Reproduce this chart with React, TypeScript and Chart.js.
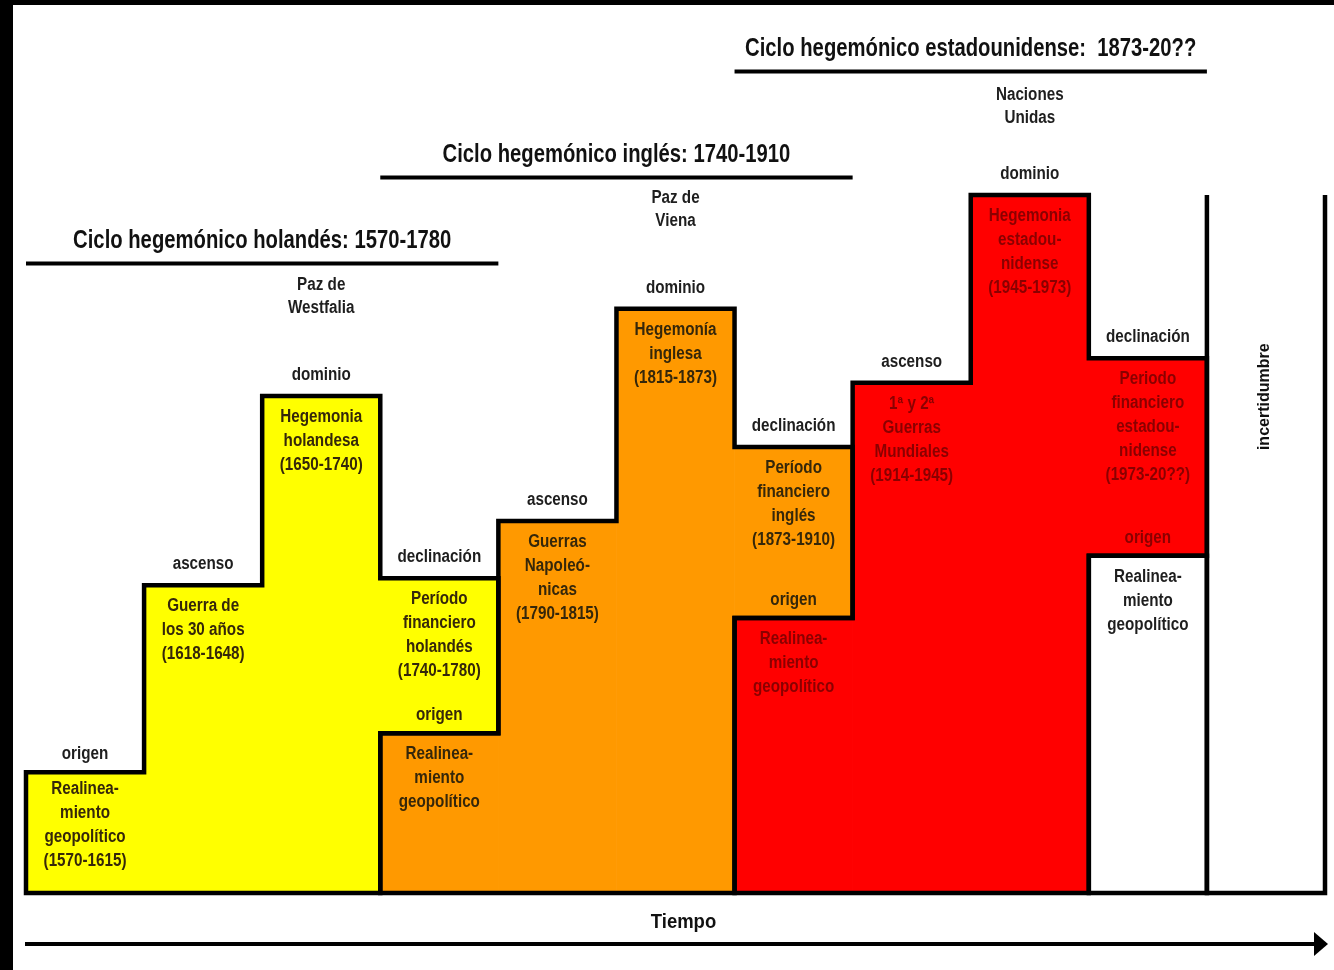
import React, { useEffect, useRef } from 'react';
import { Chart, registerables } from 'chart.js';

Chart.register(...registerables);

// ---- Data (levels on a 0..100 scale, column units on x) ----
const phaseLabels = ['origen', 'ascenso', 'dominio', 'declinación', 'ascenso', 'dominio', 'declinación', 'ascenso', 'dominio', 'declinación'];

const yellowStart = 0;
const yellowBars: [number, number][] = [[0, 17.3], [0, 44.1], [0, 71.2], [22.9, 45.1]];
const yellowTexts = [
  ['Realinea-', 'miento', 'geopolítico', '(1570-1615)'],
  ['Guerra de', 'los 30 años', '(1618-1648)'],
  ['Hegemonia', 'holandesa', '(1650-1740)'],
  ['Período', 'financiero', 'holandés', '(1740-1780)'],
];

const orangeStart = 3;
const orangeBars: [number, number][] = [[0, 22.9], [0, 53.3], [0, 83.7], [39.4, 63.9]];
const orangeTexts = [
  ['Realinea-', 'miento', 'geopolítico'],
  ['Guerras', 'Napoleó-', 'nicas', '(1790-1815)'],
  ['Hegemonía', 'inglesa', '(1815-1873)'],
  ['Período', 'financiero', 'inglés', '(1873-1910)'],
];

const redStart = 6;
const redBars: [number, number][] = [[0, 39.4], [0, 73.1], [0, 100], [48.3, 76.6]];
const redTexts = [
  ['Realinea-', 'miento', 'geopolítico'],
  ['1ª y 2ª', 'Guerras', 'Mundiales', '(1914-1945)'],
  ['Hegemonia', 'estadou-', 'nidense', '(1945-1973)'],
  ['Periodo', 'financiero', 'estadou-', 'nidense', '(1973-20??)'],
];

const whiteStart = 9;
const whiteBars: [number, number][] = [[0, 48.3]];
const whiteTexts = [['Realinea-', 'miento', 'geopolítico']];

const uncertaintyCols = [10, 11];
const uncertaintyTop = 100;
const uncertaintyLabel = 'incertidumbre';
const uncertaintyLabelLevel = 71.1;

const cycleTitles = ['Ciclo hegemónico holandés: 1570-1780', 'Ciclo hegemónico inglés: 1740-1910', 'Ciclo hegemónico estadounidense:  1873-20??'];
const cycleFrom = [0, 3, 6];
const cycleTo = [4, 7, 10];
const cycleLevels = [90.2, 102.5, 117.7];

const peaceCols = [2, 5, 8];
const peaceTexts = [['Paz de', 'Westfalia'], ['Paz de', 'Viena'], ['Naciones', 'Unidas']];
const peaceLevels = [85.5, 97.9, 112.7];

const axisTitle = 'Tiempo';

// ---- Styles ----
const YELLOW = '#ffff00';
const ORANGE = '#ff9900';
const RED = '#ff0000';
const DARK = '#35270a';
const DARKRED = '#8a0000';
const INK = '#1e1e1e';
const LABEL_FONT = 'bold 17.5px "Liberation Sans", Arial, sans-serif';
const LABEL_SX = 0.87;
const TITLE_FONT = 'bold 25px "Liberation Sans", Arial, sans-serif';
const TITLE_SX = 0.81;

const groups = [
  { start: yellowStart, bars: yellowBars, color: YELLOW, texts: yellowTexts, ink: DARK },
  { start: orangeStart, bars: orangeBars, color: ORANGE, texts: orangeTexts, ink: DARK },
  { start: redStart, bars: redBars, color: RED, texts: redTexts, ink: DARKRED },
  { start: whiteStart, bars: whiteBars, color: '#ffffff', texts: whiteTexts, ink: INK },
];

function outline(start: number, bars: [number, number][]) {
  const pts: { x: number; y: number }[] = [];
  const push = (x: number, y: number) => {
    const p = pts[pts.length - 1];
    if (p && p.x === x && p.y === y) return;
    pts.push({ x, y });
  };
  bars.forEach(([, hi], i) => { push(start + i, hi); push(start + i + 1, hi); });
  for (let i = bars.length - 1; i >= 0; i--) {
    const lo = bars[i][0];
    push(start + i + 1, lo);
    push(start + i, lo);
  }
  push(pts[0].x, pts[0].y);
  return pts;
}

function drawText(ctx: CanvasRenderingContext2D, text: string, x: number, y: number, font: string, color: string, sx: number, rot = 0) {
  ctx.save();
  ctx.translate(x, y);
  if (rot) ctx.rotate(rot);
  ctx.scale(sx, 1);
  ctx.font = font;
  ctx.fillStyle = color;
  ctx.textAlign = 'center';
  ctx.textBaseline = 'middle';
  ctx.fillText(text, 0, 0);
  ctx.restore();
}

const decorPlugin = {
  id: 'decor',
  beforeDraw(chart: any) {
    const ctx = chart.ctx as CanvasRenderingContext2D;
    ctx.save();
    ctx.fillStyle = '#ffffff';
    ctx.fillRect(0, 0, chart.width, chart.height);
    ctx.fillStyle = '#000000';
    ctx.fillRect(0, 0, chart.width, 5);
    ctx.fillRect(0, 0, 13, chart.height);
    ctx.restore();
  },
  afterDatasetsDraw(chart: any) {
    const ctx = chart.ctx as CanvasRenderingContext2D;
    const xs = chart.scales.x;
    const ys = chart.scales.y;
    const cx = (c: number) => xs.getPixelForValue(c + 0.5);
    const LH = 24;
    const GAP = 21;

    // column tops
    const tops: number[] = [];
    groups.forEach((g) => g.bars.forEach(([, hi], i) => {
      const c = g.start + i;
      tops[c] = Math.max(tops[c] ?? 0, hi);
    }));

    // phase labels above each column
    phaseLabels.forEach((t, c) => {
      drawText(ctx, t, cx(c), ys.getPixelForValue(tops[c]) - GAP + (c === 0 ? 3 : 0), LABEL_FONT, INK, LABEL_SX);
    });

    // texts inside boxes + "origen" above each later cycle start
    groups.forEach((g, gi) => {
      g.texts.forEach((lines, i) => {
        const c = g.start + i;
        const top = ys.getPixelForValue(g.bars[i][1]);
        const gap = lines.length > 3 && g.bars[i][1] < 20 ? GAP - 4 : GAP;
        lines.forEach((ln, k) => drawText(ctx, ln, cx(c), top + gap + k * LH, LABEL_FONT, g.ink, LABEL_SX));
      });
      if (gi > 0) {
        const prev = groups[gi - 1];
        const c = g.start;
        const top = ys.getPixelForValue(g.bars[0][1]);
        drawText(ctx, 'origen', cx(c), top - 18, LABEL_FONT, prev.ink, LABEL_SX);
      }
    });

    // peace treaties
    peaceCols.forEach((c, i) => {
      const mid = ys.getPixelForValue(peaceLevels[i]);
      const lines = peaceTexts[i];
      lines.forEach((ln, k) => drawText(ctx, ln, cx(c), mid + (k - (lines.length - 1) / 2) * 23, LABEL_FONT, INK, LABEL_SX));
    });

    // cycle titles
    cycleTitles.forEach((t, i) => {
      const x = (xs.getPixelForValue(cycleFrom[i]) + xs.getPixelForValue(cycleTo[i])) / 2;
      const y = ys.getPixelForValue(cycleLevels[i]) - 22;
      drawText(ctx, t, x, y, TITLE_FONT, '#111111', TITLE_SX);
    });

    // uncertainty vertical label
    drawText(ctx, uncertaintyLabel, xs.getPixelForValue((uncertaintyCols[0] + uncertaintyCols[1]) / 2) - 2,
      ys.getPixelForValue(uncertaintyLabelLevel), 'bold 16.5px "Liberation Sans", Arial, sans-serif', '#111111', 0.97, -Math.PI / 2);

    // time arrow
    const area = chart.chartArea;
    const ay = area.bottom + 51;
    const x0 = xs.getPixelForValue(0) - 1;
    const x1 = xs.getPixelForValue(11) + 3;
    ctx.save();
    ctx.strokeStyle = '#000';
    ctx.lineWidth = 4;
    ctx.beginPath();
    ctx.moveTo(x0, ay);
    ctx.lineTo(x1 - 10, ay);
    ctx.stroke();
    ctx.fillStyle = '#000';
    ctx.beginPath();
    ctx.moveTo(x1, ay);
    ctx.lineTo(x1 - 14, ay - 12);
    ctx.lineTo(x1 - 14, ay + 12);
    ctx.closePath();
    ctx.fill();
    ctx.restore();
    drawText(ctx, axisTitle, (x0 + x1) / 2 + 7, area.bottom + 29, 'bold 21px "Liberation Sans", Arial, sans-serif', '#111111', 0.88);
  },
};

export default function App() {
  const ref = useRef<HTMLCanvasElement | null>(null);
  useEffect(() => {
    document.body.style.margin = '0';
    const canvas = ref.current;
    if (!canvas) return;

    const barSets = groups.map((g, gi) => ({
      type: 'bar' as const,
      label: 'g' + gi,
      data: g.bars.map((b, i) => ({ x: g.start + i + 0.5, y: b })),
      backgroundColor: g.color,
      borderWidth: 0,
      grouped: false,
      barPercentage: 1,
      categoryPercentage: 1,
      order: 2,
    }));

    const lineStyle = {
      type: 'line' as const,
      borderColor: '#000000',
      borderWidth: 4.5,
      pointRadius: 0,
      fill: false,
      tension: 0,
      clip: false,
      order: 0,
    };

    const outlines = groups.map((g, gi) => ({
      ...lineStyle,
      label: 'o' + gi,
      data: outline(g.start, g.bars),
      borderJoinStyle: 'miter' as const,
      borderCapStyle: 'square' as const,
    }));

    const box = {
      ...lineStyle,
      label: 'box',
      data: [
        { x: uncertaintyCols[0], y: uncertaintyTop },
        { x: uncertaintyCols[0], y: 0 },
        { x: uncertaintyCols[1], y: 0 },
        { x: uncertaintyCols[1], y: uncertaintyTop },
      ],
      borderJoinStyle: 'miter' as const,
      borderCapStyle: 'butt' as const,
    };

    const cycleLines = cycleTitles.map((_, i) => ({
      ...lineStyle,
      label: 'c' + i,
      borderWidth: 4,
      data: [{ x: cycleFrom[i], y: cycleLevels[i] }, { x: cycleTo[i], y: cycleLevels[i] }],
    }));

    const chart = new Chart(canvas, {
      type: 'bar',
      data: { datasets: [...barSets, ...outlines, box, ...cycleLines] as any },
      options: {
        responsive: false,
        animation: false,
        devicePixelRatio: 1,
        layout: { padding: { left: 26, right: 9, top: 195, bottom: 77 } },
        plugins: { legend: { display: false }, tooltip: { enabled: false } },
        scales: {
          x: { type: 'linear', min: 0, max: 11, offset: false, display: false, ticks: { stepSize: 1 }, grid: { display: false } },
          y: { type: 'linear', min: 0, max: 100, display: false, grid: { display: false } },
        },
      } as any,
      plugins: [decorPlugin],
    });
    return () => chart.destroy();
  }, []);

  return (
    <div style={{ width: 1334, height: 970 }}>
      <canvas ref={ref} width={1334} height={970} style={{ display: 'block' }} />
    </div>
  );
}
